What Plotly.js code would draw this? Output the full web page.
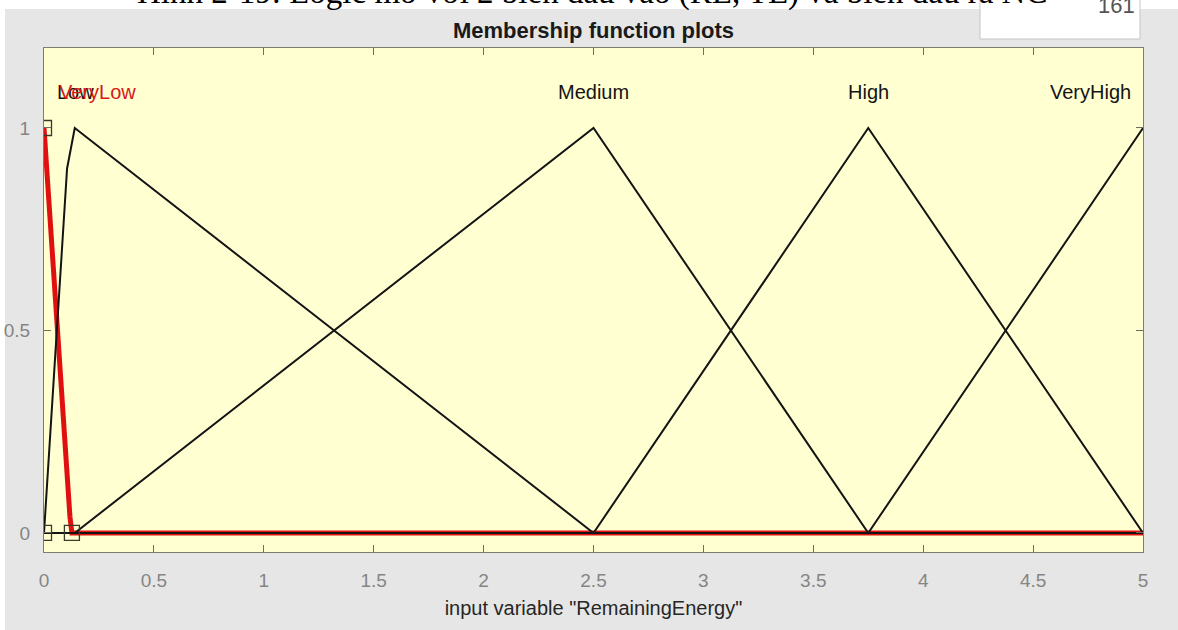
<!DOCTYPE html>
<html>
<head>
<meta charset="utf-8">
<script src="https://cdn.plot.ly/plotly-3.0.1.min.js"></script>
<style>
  html, body { margin: 0; padding: 0; background: #ffffff; }
  #chart { width: 1178px; height: 630px; }
</style>
</head>
<body>
<div id="chart"></div>
<script>
// ---- data ----
const mfNames = ["VeryLow", "Low", "Medium", "High", "VeryHigh"];

const veryLowX = [0, 0.03, 0.06, 0.09, 0.105, 0.118, 0.127, 5];
const veryLowY = [1, 0.745, 0.49, 0.235, 0.12, 0.04, 0, 0];

const lowX = [0, 0.105, 0.14, 2.5, 5];
const lowY = [0, 0.9, 1, 0, 0];

const mediumX = [0, 0.14, 2.5, 3.75, 5];
const mediumY = [0, 0, 1, 0, 0];

const highX = [0, 2.5, 3.75, 5];
const highY = [0, 0, 1, 0];

const veryHighX = [0, 3.75, 5];
const veryHighY = [0, 0, 1];

// vertex handles of the selected (VeryLow) function
const handleX = [0, 0, 0.127];
const handleY = [1, 0, 0];

// label positions (data coordinates)
const labelY = 1.089;
const labelX = { Low: 0.05, VeryLow: 0.059, Medium: 2.5, High: 3.75, VeryHigh: 4.955 };

const xTicks = [0, 0.5, 1, 1.5, 2, 2.5, 3, 3.5, 4, 4.5, 5];
const xTickText = ["0", "0.5", "1", "1.5", "2", "2.5", "3", "3.5", "4", "4.5", "5"];
const yTicks = [0, 0.5, 1];
const yTickText = ["0", "0.5", "1"];

const captionText = "Hình 2-19: Logic mờ với 2 biến đầu vào (RE, TE) và biến đầu ra NC";
const pageNumber = "161";

// ---- layout geometry ----
const W = 1178, H = 630;
const M = { l: 44, r: 35, t: 48, b: 78 };
const PW = W - M.l - M.r, PH = H - M.t - M.b;
const xp = px => (px - M.l) / PW;
const yp = py => (H - M.b - py) / PH;

const FONT = "Liberation Sans, Arial, Helvetica, sans-serif";
const BLACK = "#141414";
const RED = "#e01010";

const blackLine = { color: BLACK, width: 2 };

const traces = [
  { x: veryLowX, y: veryLowY, mode: "lines", line: { color: RED, width: 5 }, name: "VeryLow", hoverinfo: "skip" },
  { x: lowX, y: lowY, mode: "lines", line: blackLine, name: "Low", hoverinfo: "skip" },
  { x: mediumX, y: mediumY, mode: "lines", line: blackLine, name: "Medium", hoverinfo: "skip" },
  { x: highX, y: highY, mode: "lines", line: blackLine, name: "High", hoverinfo: "skip" },
  { x: veryHighX, y: veryHighY, mode: "lines", line: blackLine, name: "VeryHigh", hoverinfo: "skip" },
  { x: handleX, y: handleY, mode: "markers", name: "handles", hoverinfo: "skip",
    marker: { symbol: "square-open", size: 15, color: "#3a3a2a", line: { width: 1.3, color: "#3a3a2a" } } }
];

const annotations = [
  { text: "Low", x: labelX.Low, y: labelY, xanchor: "left", font: { color: BLACK } },
  { text: "VeryLow", x: labelX.VeryLow, y: labelY, xanchor: "left", font: { color: "#d81818" } },
  { text: "Medium", x: labelX.Medium, y: labelY, xanchor: "center", font: { color: BLACK } },
  { text: "High", x: labelX.High, y: labelY, xanchor: "center", font: { color: BLACK } },
  { text: "VeryHigh", x: labelX.VeryHigh, y: labelY, xanchor: "right", font: { color: BLACK } }
].map(a => Object.assign({ xref: "x", yref: "y", showarrow: false, yanchor: "middle" }, a,
  { font: Object.assign({ family: FONT, size: 20 }, a.font) }));

annotations.push({
  text: captionText, xref: "paper", yref: "paper", x: xp(592), y: yp(13),
  xanchor: "center", yanchor: "bottom", showarrow: false,
  font: { family: "Liberation Serif, Times New Roman, serif", size: 33, color: "#000000" }
});
annotations.push({
  text: pageNumber, xref: "paper", yref: "paper", x: xp(1116), y: yp(20),
  xanchor: "center", yanchor: "bottom", showarrow: false,
  font: { family: FONT, size: 22, color: "#555555" }
});

const shapes = [
  // white strip above and left of the grey figure window
  { type: "rect", xref: "paper", yref: "paper", layer: "below",
    x0: xp(-5), x1: xp(W + 5), y0: yp(9), y1: yp(-5),
    fillcolor: "#ffffff", line: { width: 0 } },
  { type: "rect", xref: "paper", yref: "paper", layer: "below",
    x0: xp(-5), x1: xp(5), y0: yp(H + 5), y1: yp(-5),
    fillcolor: "#ffffff", line: { width: 0 } },
  // white box at top right
  { type: "rect", xref: "paper", yref: "paper", layer: "below",
    x0: xp(980), x1: xp(1140), y0: yp(39), y1: yp(-3),
    fillcolor: "#ffffff", line: { color: "#c4c4c4", width: 1 } }
];

const axisCommon = {
  showgrid: false, zeroline: false, showline: true, mirror: "ticks",
  linecolor: "#7c7c70", linewidth: 1,
  ticks: "inside", ticklen: 7, tickwidth: 1, tickcolor: "#6e6e60",
  tickfont: { family: FONT, size: 19, color: "#858585" },
  fixedrange: true
};

const layout = {
  width: W, height: H,
  margin: M,
  paper_bgcolor: "#e6e6e6",
  plot_bgcolor: "#ffffd2",
  showlegend: false,
  title: {
    text: "<b>Membership function plots</b>",
    font: { family: FONT, size: 22, color: "#1a1a1a" },
    x: 0.5, xref: "paper", xanchor: "center",
    y: 1 - 30 / H, yref: "container", yanchor: "middle"
  },
  xaxis: Object.assign({}, axisCommon, {
    range: [0, 5], tickmode: "array", tickvals: xTicks, ticktext: xTickText,
    ticklabelstandoff: 11,
    title: { text: 'input variable "RemainingEnergy"', font: { family: FONT, size: 20, color: "#262626" }, standoff: 11 }
  }),
  yaxis: Object.assign({}, axisCommon, {
    range: [-0.047, 1.1975], tickmode: "array", tickvals: yTicks, ticktext: yTickText,
    ticklabelstandoff: 9
  }),
  annotations: annotations,
  shapes: shapes
};

Plotly.newPlot("chart", traces, layout, { staticPlot: true, displayModeBar: false });
</script>
</body>
</html>
